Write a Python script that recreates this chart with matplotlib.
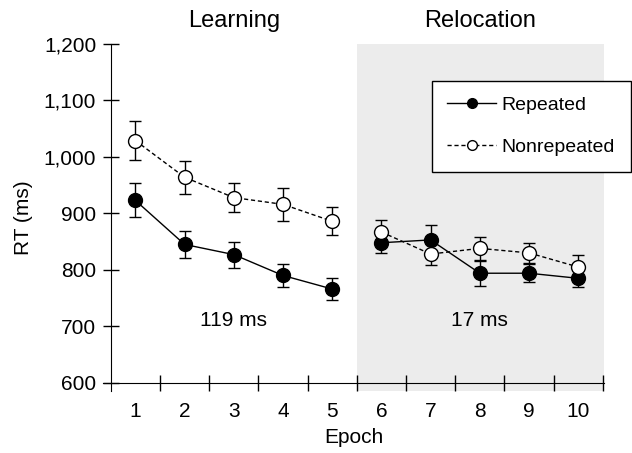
import matplotlib
matplotlib.use('Agg')
import matplotlib.pyplot as plt

plt.rcParams['font.family'] = ['Liberation Sans', 'DejaVu Sans']

epochs = [1, 2, 3, 4, 5, 6, 7, 8, 9, 10]
repeated = [923, 845, 827, 790, 766, 848, 853, 794, 794, 785]
repeated_err = [30, 24, 23, 21, 20, 19, 26, 22, 16, 16]
nonrepeated = [1029, 964, 928, 916, 886, 867, 828, 838, 830, 805]
nonrepeated_err = [35, 29, 26, 29, 25, 21, 20, 21, 17, 21]
yticks = [600, 700, 800, 900, 1000, 1100, 1200]
ytick_labels = ['600', '700', '800', '900', '1,000', '1,100', '1,200']

fig = plt.figure(figsize=(6.32, 4.53), dpi=100)
ax = fig.add_axes([0.1636, 0.1364, 0.7918, 0.7664])

# relocation phase shading
ax.axvspan(5.5, 10.52, color='#ececec', zorder=0, lw=0)

ax.errorbar(epochs[:5], repeated[:5], yerr=repeated_err[:5], color='black',
            lw=1, marker='o', ms=10, mfc='black', mec='black', capsize=4.5,
            elinewidth=1, capthick=1, zorder=3)
ax.errorbar(epochs[5:], repeated[5:], yerr=repeated_err[5:], color='black',
            lw=1, marker='o', ms=10, mfc='black', mec='black', capsize=4.5,
            elinewidth=1, capthick=1, zorder=3)
ax.errorbar(epochs[:5], nonrepeated[:5], yerr=nonrepeated_err[:5], color='black',
            lw=1, ls=(0, (3, 2)), marker='o', ms=10, mfc='white', mec='black',
            capsize=4.5, elinewidth=1, capthick=1, zorder=4)
ax.errorbar(epochs[5:], nonrepeated[5:], yerr=nonrepeated_err[5:], color='black',
            lw=1, ls=(0, (3, 2)), marker='o', ms=10, mfc='white', mec='black',
            capsize=4.5, elinewidth=1, capthick=1, zorder=4)

# legend handles
h1, = ax.plot([], [], color='black', lw=1, marker='o', ms=10, mfc='black', mec='black')
h2, = ax.plot([], [], color='black', lw=1, ls=(0, (3, 2)), marker='o', ms=10,
              mfc='white', mec='black')
leg = ax.legend([h1, h2], ['Repeated', 'Nonrepeated'], loc='upper right',
                bbox_to_anchor=(0.998, 0.821), bbox_transform=fig.transFigure,
                borderaxespad=0, fontsize=14, markerscale=0.7, handlelength=2.5,
                handletextpad=0.3, labelspacing=1.25, borderpad=0.8,
                fancybox=False, framealpha=1, edgecolor='black')
leg.get_frame().set_linewidth(1)

ax.set_xlim(0.35, 10.52)
ax.set_ylim(585, 1200)
ax.spines['left'].set_position(('data', 0.5))
ax.spines['bottom'].set_position(('data', 600))
ax.spines['top'].set_visible(False)
ax.spines['right'].set_visible(False)

ax.set_xticks([1.5, 2.5, 3.5, 4.5, 5.5, 6.5, 7.5, 8.5, 9.5, 10.5])
ax.set_xticklabels([])
ax.set_xticks(epochs, minor=True)
ax.set_xticklabels([str(e) for e in epochs], minor=True, fontsize=15)
ax.tick_params(axis='x', which='major', direction='inout', length=11, width=1)
ax.tick_params(axis='x', which='minor', length=0, pad=14)
ax.set_yticks(yticks)
ax.set_yticklabels(ytick_labels, fontsize=15)
ax.tick_params(axis='y', direction='inout', length=11, width=1, pad=5)

ax.set_xlabel('Epoch', fontsize=15, labelpad=5)
ax.set_ylabel('RT (ms)', fontsize=15, labelpad=8)

ax.text(3, 1222, 'Learning', fontsize=17, ha='center', va='bottom')
ax.text(8, 1222, 'Relocation', fontsize=17, ha='center', va='bottom')
ax.text(3, 711, '119 ms', fontsize=15, ha='center', va='center')
ax.text(8, 711, '17 ms', fontsize=15, ha='center', va='center')

fig.savefig('out.png', dpi=100)
